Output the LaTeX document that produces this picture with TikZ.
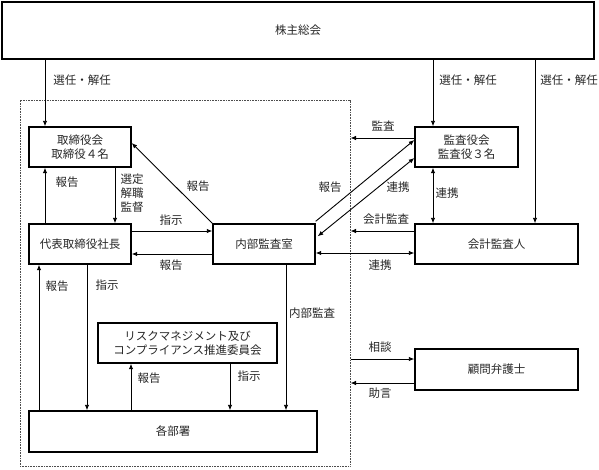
\documentclass[tikz,border=0pt]{standalone}
\usepackage{fontspec}
\setmainfont{Noto Sans CJK JP}
\usetikzlibrary{arrows.meta}
\begin{document}
\begin{tikzpicture}[x=1pt,y=-1pt,
  every node/.style={font=\fontsize{11.5pt}{14pt}\selectfont, text=black!85},
  box/.style={draw, line width=1.4pt, inner sep=0pt, align=center},
  grpbox/.style={draw=black!70, line width=1pt, dash pattern=on 0.8pt off 0.8pt, inner sep=0pt},
  arr/.style={line width=0.9pt, -{Latex[length=5.5pt,width=4.5pt]}},
  darr/.style={line width=0.9pt, {Latex[length=5.5pt,width=4.5pt]}-{Latex[length=5.5pt,width=4.5pt]}},
  lbl/.style={inner sep=0pt}
]
\useasboundingbox (0,0) rectangle (599,469);
% group (dotted)
\node[grpbox, minimum width=330pt, minimum height=366pt] (grp) at (185,283) {};
% boxes
\node[box, minimum width=592pt, minimum height=57pt] (top) at (298,30.5) {株主総会};
\node[box, minimum width=102pt, minimum height=40pt] (tori) at (80,147) {取締役会\\取締役４名};
\node[box, minimum width=102pt, minimum height=40pt] (daihyo) at (80,244) {代表取締役社長};
\node[box, minimum width=102pt, minimum height=40pt] (naibu) at (264,244) {内部監査室};
\node[box, minimum width=103pt, minimum height=40pt] (kansa) at (466.5,147) {監査役会\\監査役３名};
\node[box, minimum width=163pt, minimum height=40pt] (kaikei) at (496.5,244) {会計監査人};
\node[box, minimum width=179pt, minimum height=40pt] (risk) at (187.5,343) {リスクマネジメント及び\\コンプライアンス推進委員会};
\node[box, minimum width=288pt, minimum height=41pt] (bu) at (173,431.5) {各部署};
\node[box, minimum width=163pt, minimum height=41pt] (komon) at (496.5,369.5) {顧問弁護士};
% arrows from top
\draw[arr] (45,0 |- top.south) -- (45,0 |- tori.north);
\draw[arr] (433,0 |- top.south) -- (433,0 |- kansa.north);
\draw[arr] (535,0 |- top.south) -- (535,0 |- kaikei.north);
\node[lbl] (l1) at (82,80) {選任・解任};
\node[lbl] (l2) at (468,80) {選任・解任};
\node[lbl] (l3) at (569,80) {選任・解任};
% board <-> president
\draw[arr] (45,0 |- daihyo.north) -- (45,0 |- tori.south);
\node[lbl] (l4) at (67,182) {報告};
\draw[arr] (115,0 |- tori.south) -- (115,0 |- daihyo.north);
\node[lbl, align=center] (l5) at (132,193.5) {選定\\解職\\監督};
% president <-> internal audit
\draw[arr] (daihyo.east |- 0,231) -- (naibu.west |- 0,231);
\node[lbl] (l6) at (171,220) {指示};
\draw[arr] (naibu.west |- 0,254) -- (daihyo.east |- 0,254);
\node[lbl] (l7) at (171,265.5) {報告};
% diagonal to board
\draw[arr] (naibu.north west) -- ([yshift=4pt]tori.east);
\node[lbl] (l8) at (198,186) {報告};
% diagonals to auditors
\draw[arr] ([yshift=2pt]naibu.north east) -- ([yshift=7pt]kansa.west);
\node[lbl] (l9) at (330,187) {報告};
\draw[darr] ([yshift=-13pt,xshift=2pt]naibu.north east) -- ([yshift=-11pt]kansa.west);
\node[lbl] (l10) at (398,187) {連携};
% auditors
\draw[arr] (kansa.west |- 0,138) -- (grp.east |- 0,138);
\node[lbl] (l11) at (383,126) {監査};
\draw[darr] (433,0 |- kansa.south) -- (433,0 |- kaikei.north);
\node[lbl] (l12) at (447,193) {連携};
\draw[arr] (kaikei.west |- 0,231) -- (grp.east |- 0,231);
\node[lbl] (l13) at (386,219) {会計監査};
\draw[darr] (naibu.east |- 0,253) -- (kaikei.west |- 0,253);
\node[lbl] (l14) at (380,265.5) {連携};
% president <-> departments
\draw[arr] (39,0 |- bu.north) -- (39,0 |- daihyo.south);
\node[lbl] (l15) at (57,286) {報告};
\draw[arr] (87,0 |- daihyo.south) -- (87,0 |- bu.north);
\node[lbl] (l16) at (107,285) {指示};
% risk committee
\draw[arr] (131,0 |- bu.north) -- (131,0 |- risk.south);
\node[lbl] (l17) at (149,378) {報告};
\draw[arr] (230,0 |- risk.south) -- (230,0 |- bu.north);
\node[lbl] (l18) at (249,376) {指示};
% internal audit
\draw[arr] (286,0 |- naibu.south) -- (286,0 |- bu.north);
\node[lbl] (l19) at (312,313) {内部監査};
% lawyer
\draw[arr] (grp.east |- 0,359) -- (komon.west |- 0,359);
\node[lbl] (l20) at (380,347) {相談};
\draw[arr] (komon.west |- 0,383) -- (grp.east |- 0,383);
\node[lbl] (l21) at (380,393) {助言};
\end{tikzpicture}
\end{document}
